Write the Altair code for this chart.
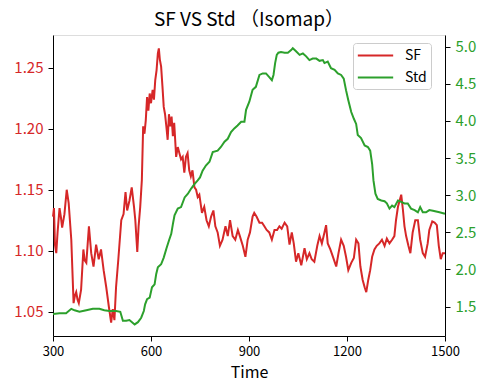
import altair as alt
import pandas as pd

sf_t = [300, 303, 306, 310, 314, 320, 324, 328, 335, 342, 348, 356, 363, 367, 371, 375, 379, 386,
        393, 397, 402, 406, 410, 417, 424, 428, 432, 440, 447, 455, 463, 471, 478, 483, 488, 493,
        500, 509, 516, 522, 527, 534, 541, 548, 552, 558, 562, 567, 572, 576, 580, 584, 588, 592,
        596, 600, 605, 609, 613, 617, 621, 624, 627, 631, 635, 639, 643, 647, 651, 655, 659, 663,
        667, 671, 677, 682, 687, 692, 697, 702, 707, 712, 717, 722, 727, 733, 738, 743, 748, 756,
        763, 770, 777, 784, 791, 797, 804, 811, 819, 828, 835, 842, 850, 858, 866, 872, 881, 889,
        896, 903, 911, 916, 923, 932, 940, 947, 954, 962, 970, 978, 986, 993, 1000, 1009, 1017,
        1024, 1031, 1037, 1044, 1051, 1060, 1070, 1077, 1085, 1092, 1100, 1109, 1116, 1123, 1131,
        1136, 1141, 1149, 1157, 1167, 1174, 1182, 1190, 1197, 1204, 1213, 1221, 1228, 1235, 1241,
        1248, 1254, 1259, 1265, 1271, 1277, 1284, 1291, 1299, 1307, 1315, 1322, 1330, 1338, 1345,
        1350, 1356, 1361, 1366, 1371, 1376, 1381, 1388, 1394, 1401, 1409, 1417, 1424, 1432, 1439,
        1447, 1452, 1461, 1468, 1475, 1481, 1487, 1493, 1500]
sf_v = [1.128, 1.135, 1.105, 1.098, 1.115, 1.135, 1.128, 1.119, 1.130, 1.150, 1.139, 1.109, 1.057,
        1.063, 1.066, 1.060, 1.057, 1.068, 1.101, 1.092, 1.090, 1.105, 1.120, 1.098, 1.087, 1.096,
        1.105, 1.093, 1.101, 1.084, 1.070, 1.054, 1.041, 1.052, 1.043, 1.070, 1.093, 1.125, 1.130,
        1.148, 1.133, 1.141, 1.152, 1.136, 1.125, 1.099, 1.120, 1.136, 1.158, 1.202, 1.196, 1.207,
        1.226, 1.215, 1.229, 1.221, 1.232, 1.224, 1.240, 1.248, 1.262, 1.266, 1.257, 1.251, 1.235,
        1.218, 1.212, 1.202, 1.191, 1.212, 1.202, 1.210, 1.194, 1.205, 1.177, 1.185, 1.180, 1.175,
        1.177, 1.164, 1.177, 1.180, 1.166, 1.161, 1.166, 1.152, 1.150, 1.144, 1.146, 1.131, 1.136,
        1.125, 1.120, 1.128, 1.133, 1.120, 1.115, 1.104, 1.109, 1.120, 1.112, 1.125, 1.112, 1.109,
        1.117, 1.112, 1.104, 1.095, 1.109, 1.115, 1.128, 1.131, 1.128, 1.123, 1.123, 1.120, 1.117,
        1.115, 1.109, 1.117, 1.117, 1.120, 1.118, 1.123, 1.120, 1.105, 1.115, 1.106, 1.091, 1.098,
        1.088, 1.102, 1.093, 1.098, 1.093, 1.091, 1.104, 1.112, 1.106, 1.115, 1.121, 1.106, 1.101,
        1.095, 1.087, 1.098, 1.109, 1.104, 1.095, 1.084, 1.090, 1.094, 1.109, 1.106, 1.087, 1.076,
        1.070, 1.066, 1.076, 1.084, 1.095, 1.101, 1.104, 1.106, 1.109, 1.104, 1.110, 1.106, 1.109,
        1.112, 1.125, 1.136, 1.141, 1.146, 1.134, 1.120, 1.112, 1.104, 1.098, 1.115, 1.125, 1.125,
        1.109, 1.098, 1.095, 1.106, 1.117, 1.124, 1.123, 1.121, 1.104, 1.093, 1.098, 1.098]

std_t = [300, 320, 340, 356, 366, 381, 402, 422, 442, 457, 473, 493, 506, 514, 524, 534, 550, 560,
         570, 578, 582, 588, 596, 603, 611, 616, 621, 631, 639, 647, 655, 662, 667, 672, 682, 692,
         703, 713, 723, 733, 743, 750, 758, 768, 779, 789, 804, 814, 825, 835, 845, 855, 865, 876,
         886, 891, 901, 911, 921, 932, 942, 952, 962, 970, 975, 980, 985, 990, 998, 1009, 1019,
         1029, 1034, 1044, 1055, 1065, 1075, 1085, 1095, 1106, 1116, 1126, 1131, 1141, 1151, 1162,
         1172, 1182, 1190, 1197, 1204, 1213, 1221, 1228, 1233, 1243, 1254, 1264, 1271, 1277, 1281,
         1287, 1294, 1305, 1315, 1322, 1330, 1338, 1345, 1356, 1366, 1376, 1386, 1396, 1407, 1417,
         1424, 1432, 1442, 1452, 1463, 1473, 1483, 1500]
std_v = [1.40, 1.41, 1.41, 1.47, 1.45, 1.43, 1.45, 1.47, 1.47, 1.45, 1.44, 1.44, 1.43, 1.31, 1.31,
         1.32, 1.26, 1.29, 1.35, 1.44, 1.53, 1.60, 1.62, 1.76, 1.80, 1.94, 2.03, 2.07, 2.16, 2.28,
         2.39, 2.48, 2.61, 2.73, 2.82, 2.84, 2.97, 3.02, 3.09, 3.15, 3.20, 3.24, 3.33, 3.40, 3.45,
         3.58, 3.60, 3.65, 3.72, 3.76, 3.85, 3.90, 3.94, 3.99, 3.99, 4.15, 4.26, 4.42, 4.46, 4.62,
         4.64, 4.64, 4.59, 4.55, 4.62, 4.78, 4.89, 4.92, 4.93, 4.92, 4.92, 4.955, 4.98, 4.94, 4.89,
         4.91, 4.87, 4.82, 4.84, 4.84, 4.81, 4.82, 4.78, 4.80, 4.71, 4.69, 4.64, 4.62, 4.57, 4.415,
         4.28, 4.12, 4.03, 3.96, 3.81, 3.77, 3.67, 3.65, 3.60, 3.42, 3.20, 3.02, 2.95, 2.93, 2.92,
         2.89, 2.82, 2.86, 2.84, 2.93, 2.91, 2.89, 2.89, 2.82, 2.80, 2.77, 2.84, 2.77, 2.77, 2.80,
         2.79, 2.78, 2.77, 2.75]

series_names = ["SF", "Std"]
series_colors = ["#d62728", "#2ca02c"]
x_ticks = [300, 600, 900, 1200, 1500]
sf_ticks = [1.05, 1.10, 1.15, 1.20, 1.25]
std_ticks = [1.5, 2.0, 2.5, 3.0, 3.5, 4.0, 4.5, 5.0]

df = pd.concat([
    pd.DataFrame({"Time": sf_t, "value": sf_v, "series": "SF"}),
    pd.DataFrame({"Time": std_t, "value": std_v, "series": "Std"}),
])

FONT = "Noto Sans CJK SC"

color = alt.Color(
    "series:N",
    scale=alt.Scale(domain=series_names, range=series_colors),
    legend=alt.Legend(
        title=None, orient="none", legendX=300, legendY=8,
        symbolType="M-2.5,0L2.5,0", symbolSize=200, symbolStrokeWidth=2,
        symbolOffset=10, labelOffset=21, labelFontSize=14, labelFont=FONT,
        labelColor="black", rowPadding=6, padding=4,
        fillColor="white", strokeColor="#cccccc", cornerRadius=3,
    ),
)

xenc = alt.X(
    "Time:Q",
    scale=alt.Scale(domain=[300, 1500], nice=False, zero=False),
    axis=alt.Axis(values=x_ticks, format="d", title="Time", grid=False, labelFontSize=13,
                  titleFontSize=16, titleFontWeight="normal", labelFont=FONT, titleFont=FONT,
                  tickColor="black", domainColor="black", labelColor="black",
                  titleColor="black", tickSize=5, labelPadding=4, titlePadding=6,
                  labelFlush=False),
)

sf_layer = alt.Chart(df).transform_filter(alt.datum.series == "SF").mark_line(
    strokeWidth=2).encode(
    x=xenc,
    y=alt.Y("value:Q", scale=alt.Scale(domain=[1.030, 1.277], nice=False, zero=False),
            axis=alt.Axis(values=sf_ticks, format=".2f", title=None, grid=False,
                          labelColor="#d62728", labelFontSize=15, labelFont=FONT,
                          tickColor="black", domainColor="black", tickSize=5,
                          labelPadding=5)),
    color=color,
)

std_layer = alt.Chart(df).transform_filter(alt.datum.series == "Std").mark_line(
    strokeWidth=2).encode(
    x=xenc,
    y=alt.Y("value:Q", scale=alt.Scale(domain=[1.104, 5.158], nice=False, zero=False),
            axis=alt.Axis(values=std_ticks, format=".1f", title=None, grid=False,
                          orient="right", labelColor="#2ca02c", labelFontSize=15,
                          labelFont=FONT, tickColor="black", domainColor="black",
                          tickSize=5, labelPadding=5)),
    color=color,
)

chart = alt.layer(sf_layer, std_layer).resolve_scale(y="independent").properties(
    width=392, height=301,
    autosize=alt.AutoSizeParams(type="none"),
    padding={"left": 45, "top": 27, "right": 37, "bottom": 46},
    title=alt.Title("SF VS Std （Isomap）", fontSize=19, font=FONT, fontWeight="normal",
                    color="black", offset=5, anchor="middle"),
).configure_view(stroke="black", strokeWidth=1).configure(background="white")

chart.save("out.html", embed_options={"renderer": "svg", "actions": False})
